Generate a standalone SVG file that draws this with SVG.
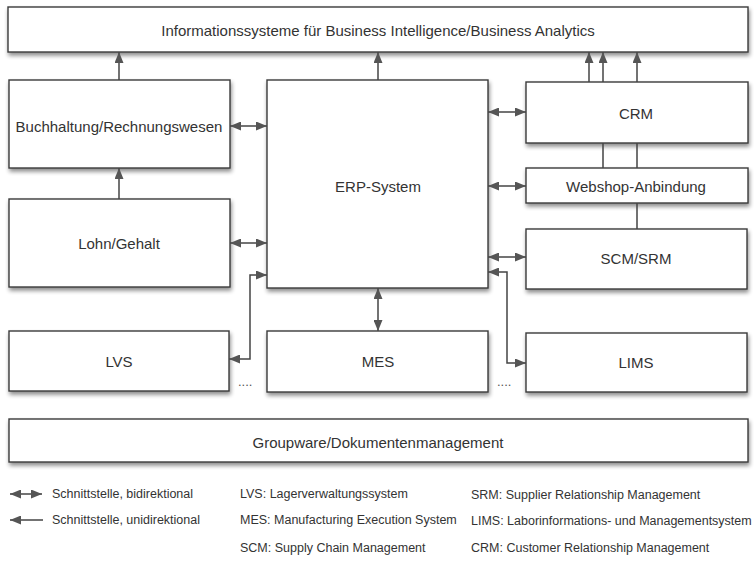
<svg xmlns="http://www.w3.org/2000/svg" width="756" height="571" viewBox="0 0 756 571">
<defs>
<filter id="sh" x="-5%" y="-20%" width="110%" height="150%">
<feGaussianBlur in="SourceAlpha" stdDeviation="2"/>
<feOffset dx="1" dy="3" result="b"/>
<feComponentTransfer><feFuncA type="linear" slope="0.45"/></feComponentTransfer>
<feMerge><feMergeNode/><feMergeNode in="SourceGraphic"/></feMerge>
</filter>
<marker id="ah" viewBox="0 0 11 9" refX="11" refY="4.5" markerWidth="11" markerHeight="9" markerUnits="userSpaceOnUse" orient="auto-start-reverse">
<path d="M0,0 L11,4.5 L0,9 Z" fill="#555"/>
</marker>
</defs>
<style>
.box{fill:#fff;stroke:#3a3a3a;stroke-width:1.4}
.t{font-family:"Liberation Sans",Arial,sans-serif;font-size:15px;fill:#333;text-anchor:middle;dominant-baseline:central}
.c{fill:none;stroke:#444;stroke-width:1.5}
.bi{marker-start:url(#ah);marker-end:url(#ah)}
.uni{marker-end:url(#ah)}
.lg{font-family:"Liberation Sans",Arial,sans-serif;font-size:12.5px;fill:#333}
.dots{font-family:"Liberation Sans",Arial,sans-serif;font-size:13px;fill:#555}
</style>
<rect width="756" height="571" fill="#fff"/>

<g id="bi-system">
<rect class="box" x="8" y="7" width="740" height="45" filter="url(#sh)"/>
<text class="t" x="378" y="30">Informationssysteme für Business Intelligence/Business Analytics</text>
</g>
<g id="buchhaltung">
<rect class="box" x="9" y="80" width="221" height="88" filter="url(#sh)"/>
<text class="t" x="119" y="126">Buchhaltung/Rechnungswesen</text>
</g>
<g id="lohn">
<rect class="box" x="9" y="199" width="221" height="88" filter="url(#sh)"/>
<text class="t" x="119" y="243">Lohn/Gehalt</text>
</g>
<g id="erp">
<rect class="box" x="267" y="80" width="221" height="208" filter="url(#sh)"/>
<text class="t" x="378" y="186">ERP-System</text>
</g>
<g id="crm">
<rect class="box" x="526" y="82" width="222" height="61" filter="url(#sh)"/>
<text class="t" x="636" y="113">CRM</text>
</g>
<g id="webshop">
<rect class="box" x="526" y="168" width="222" height="35" filter="url(#sh)"/>
<text class="t" x="636" y="186">Webshop-Anbindung</text>
</g>
<g id="scm">
<rect class="box" x="526" y="229" width="221" height="60" filter="url(#sh)"/>
<text class="t" x="636" y="258">SCM/SRM</text>
</g>
<g id="lvs">
<rect class="box" x="9" y="331" width="220" height="60" filter="url(#sh)"/>
<text class="t" x="119" y="361">LVS</text>
</g>
<g id="mes">
<rect class="box" x="267" y="331" width="221" height="61" filter="url(#sh)"/>
<text class="t" x="378" y="361">MES</text>
</g>
<g id="lims">
<rect class="box" x="526" y="333" width="221" height="59" filter="url(#sh)"/>
<text class="t" x="636" y="362">LIMS</text>
</g>
<g id="groupware">
<rect class="box" x="9" y="419" width="739" height="43" filter="url(#sh)"/>
<text class="t" x="378" y="442">Groupware/Dokumentenmanagement</text>
</g>

<g id="connectors">
<path class="c uni" d="M119,80 V52"/>
<path class="c uni" d="M378,80 V52"/>
<path class="c uni" d="M589,82 V52"/>
<path class="c uni" d="M603,82 V52"/>
<path class="c uni" d="M637,82 V52"/>
<path class="c uni" d="M119,199 V168"/>
<path class="c bi" d="M230,126 H267"/>
<path class="c bi" d="M230,243 H267"/>
<path class="c bi" d="M488,112 H526"/>
<path class="c bi" d="M488,186 H526"/>
<path class="c bi" d="M488,257 H526"/>
<path class="c bi" d="M378,288 V331"/>
<path class="c bi" d="M267,275 H250 V359 H229"/>
<path class="c bi" d="M488,272 H507 V363 H526"/>
<path class="c" d="M603,143 V168 M637,143 V168 M637,203 V229"/>
</g>
<text class="dots" x="238" y="386">....</text>
<text class="dots" x="497" y="386">....</text>

<g id="legend">
<path class="c bi" d="M10,494 H42"/>
<path class="c uni" d="M43,520 H10"/>
<text class="lg" x="52" y="498">Schnittstelle, bidirektional</text>
<text class="lg" x="52" y="524">Schnittstelle, unidirektional</text>
<text class="lg" x="240" y="498">LVS: Lagerverwaltungssystem</text>
<text class="lg" x="240" y="524">MES: Manufacturing Execution System</text>
<text class="lg" x="240" y="552">SCM: Supply Chain Management</text>
<text class="lg" x="471" y="499">SRM: Supplier Relationship Management</text>
<text class="lg" x="471" y="525">LIMS: Laborinformations- und Managementsystem</text>
<text class="lg" x="471" y="552">CRM: Customer Relationship Management</text>
</g>
</svg>
